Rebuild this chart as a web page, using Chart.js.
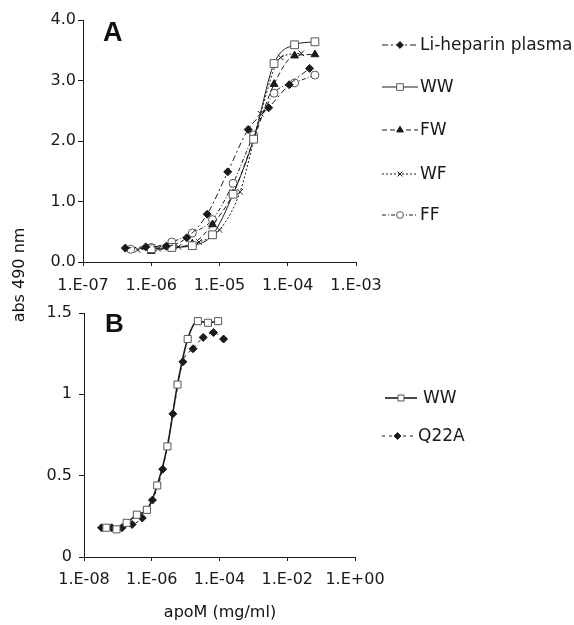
<!DOCTYPE html>
<html><head><meta charset="utf-8">
<script src="https://cdn.jsdelivr.net/npm/chart.js@4.4.1/dist/chart.umd.min.js"></script>
<style>
html,body{margin:0;padding:0;background:#fff;}
#wrap{position:relative;width:574px;height:625px;overflow:hidden;font-family:"DejaVu Sans",sans-serif;color:#111;}
canvas{position:absolute;left:0;top:0;}
.lbl{position:absolute;white-space:nowrap;}
</style></head><body>
<div id="wrap">
<canvas id="cA" width="574" height="625"></canvas>
<canvas id="cB" width="574" height="625"></canvas>
<div class="lbl" style="left:103px;top:19px;font:bold 27px 'Liberation Sans',sans-serif;line-height:27px;">A</div>
<div class="lbl" style="left:105px;top:310px;font:bold 26px 'Liberation Sans',sans-serif;line-height:26px;">B</div>
<div class="lbl" style="left:0px;top:604px;width:440px;text-align:center;font:16px 'DejaVu Sans',sans-serif;line-height:16px;">apoM (mg/ml)</div>
<div class="lbl" style="left:-81px;top:265px;width:200px;height:20px;text-align:center;font:16px 'DejaVu Sans',sans-serif;line-height:20px;transform:rotate(-90deg);">abs 490 nm</div>
</div>
<script>
// ---------- Panel A data ----------
const seriesA = ["Li-heparin plasma", "WW", "FW", "WF", "FF"];
const liHepX = [4.17e-7, 8.3e-7, 1.66e-6, 3.31e-6, 6.6e-6, 1.32e-5, 2.63e-5, 5.25e-5, 1.05e-4, 2.09e-4];
const liHepY = [0.23, 0.25, 0.26, 0.40, 0.79, 1.49, 2.19, 2.55, 2.93, 3.20];
const wwAX = [1.0e-6, 2.0e-6, 4.0e-6, 7.9e-6, 1.58e-5, 3.16e-5, 6.3e-5, 1.26e-4, 2.5e-4];
const wwAY = [0.22, 0.24, 0.27, 0.45, 1.12, 2.03, 3.28, 3.59, 3.64];
const fwX = [1.0e-6, 2.0e-6, 4.0e-6, 7.9e-6, 1.58e-5, 3.16e-5, 6.3e-5, 1.26e-4, 2.5e-4];
const fwY = [0.18, 0.24, 0.30, 0.62, 1.13, 2.02, 2.94, 3.41, 3.43];
const wfX = [6.3e-7, 1.26e-6, 2.5e-6, 5.0e-6, 1.0e-5, 2.0e-5, 4.0e-5, 7.9e-5, 1.58e-4];
const wfY = [0.20, 0.22, 0.25, 0.33, 0.53, 1.16, 2.45, 3.38, 3.45];
const ffX = [5.0e-7, 1.0e-6, 2.0e-6, 4.0e-6, 7.9e-6, 1.58e-5, 3.16e-5, 6.3e-5, 1.26e-4, 2.5e-4];
const ffY = [0.21, 0.24, 0.33, 0.48, 0.70, 1.30, 2.10, 2.79, 2.96, 3.09];
const yTicksA = [0, 1, 2, 3, 4];
const xTicksA = [1e-7, 1e-6, 1e-5, 1e-4, 1e-3];

// ---------- Panel B data ----------
const seriesB = ["WW", "Q22A"];
const wwBX = [4.57e-8, 9.1e-8, 1.82e-7, 3.63e-7, 7.2e-7, 1.45e-6, 2.9e-6, 5.75e-6, 1.15e-5, 2.3e-5, 4.57e-5, 9.1e-5];
const wwBY = [0.18, 0.17, 0.21, 0.26, 0.29, 0.44, 0.68, 1.06, 1.34, 1.45, 1.44, 1.45];
const q22aX = [3.3e-8, 6.6e-8, 1.32e-7, 2.63e-7, 5.25e-7, 1.05e-6, 2.1e-6, 4.2e-6, 8.3e-6, 1.66e-5, 3.3e-5, 6.6e-5, 1.32e-4];
const q22aY = [0.18, 0.18, 0.18, 0.20, 0.24, 0.35, 0.54, 0.88, 1.20, 1.28, 1.35, 1.38, 1.34];
const yTicksB = [0, 0.5, 1, 1.5];
const xTicksB = [1e-8, 1e-6, 1e-4, 1e-2, 1];

const FONT = {family: "'DejaVu Sans', sans-serif", size: 16};
const INK = '#1a1a1a';

function pts(xs, ys){ return xs.map((x,i)=>({x:x, y:ys[i]})); }
function fmtE(v){
  const e = Math.round(Math.log10(v));
  return '1.E' + (e < 0 ? '-' : '+') + String(Math.abs(e)).padStart(2,'0');
}
function ds(label, xs, ys, style){
  return Object.assign({
    label: label, data: pts(xs, ys), showLine: true,
    borderColor: INK, borderWidth: 1, tension: 0.4, cubicInterpolationMode: 'monotone',
    pointBorderColor: INK, pointBackgroundColor: INK, pointBorderWidth: 1,
    pointRadius: 4, pointHoverRadius: 4, borderDash: []
  }, style);
}

function legendPlugin(items){
  return {
    id: 'customLegend',
    afterDraw(chart){
      const ctx = chart.ctx;
      ctx.save();
      chart.data.datasets.forEach((d, i) => {
        const it = items[i];
        ctx.strokeStyle = d.borderColor; ctx.lineWidth = d.borderWidth;
        ctx.setLineDash(d.borderDash || []);
        ctx.beginPath(); ctx.moveTo(it.x1, it.y); ctx.lineTo(it.x2, it.y); ctx.stroke();
        ctx.setLineDash([]);
        ctx.fillStyle = d.pointBackgroundColor; ctx.strokeStyle = d.pointBorderColor;
        ctx.lineWidth = d.pointBorderWidth;
        Chart.helpers.drawPoint(ctx, {pointStyle: d.pointStyle, radius: d.pointRadius * 0.85, rotation: 0, borderWidth: d.pointBorderWidth}, (it.x1+it.x2)/2, it.y);
        ctx.fillStyle = INK;
        ctx.font = "17px 'DejaVu Sans', sans-serif";
        ctx.textBaseline = 'middle'; ctx.textAlign = 'left';
        ctx.fillText(d.label, it.tx, it.y + 1);
      });
      ctx.restore();
    }
  };
}

function axes(xmin, xmax, xticks, ymin, ymax, yticks, yfmt, ypad, xpad, yW, xH){
  return {
    x: {
      type: 'logarithmic', min: xmin, max: xmax,
      afterBuildTicks: s => { s.ticks = xticks.map(v => ({value: v})); },
      afterFit: s => { s.height = xH; },
      ticks: {callback: v => fmtE(v), font: FONT, color: INK, autoSkip: false, maxRotation: 0, padding: xpad},
      grid: {display: true, drawOnChartArea: false, drawTicks: true, tickLength: 4, color: INK},
      border: {display: true, color: INK, width: 1}
    },
    y: {
      type: 'linear', min: ymin, max: ymax,
      afterBuildTicks: s => { s.ticks = yticks.map(v => ({value: v})); },
      afterFit: s => { s.width = yW; },
      ticks: {callback: yfmt, font: FONT, color: INK, padding: ypad},
      grid: {display: true, drawOnChartArea: false, drawTicks: true, tickLength: 5, color: INK},
      border: {display: true, color: INK, width: 1}
    }
  };
}

const openSq = {pointBackgroundColor: '#ffffff', pointBorderColor: '#555555'};

new Chart(document.getElementById('cA'), {
  type: 'scatter',
  data: { datasets: [
    ds(seriesA[0], liHepX, liHepY, {pointStyle: 'rectRot', pointRadius: 4, borderDash: [6,3,2,3]}),
    ds(seriesA[1], wwAX, wwAY, Object.assign({pointStyle: 'rect', pointRadius: 5.5}, openSq)),
    ds(seriesA[2], fwX, fwY, {pointStyle: 'triangle', pointRadius: 4.5, borderDash: [5,3]}),
    ds(seriesA[3], wfX, wfY, {pointStyle: 'crossRot', pointRadius: 4, borderDash: [2,2]}),
    ds(seriesA[4], ffX, ffY, Object.assign({pointStyle: 'circle', pointRadius: 4, borderDash: [4,2,1,2]}, openSq))
  ]},
  options: {
    responsive: false, animation: false, devicePixelRatio: 1,
    layout: {padding: {top: 20, left: 0, right: 218, bottom: 625 - 262 - 40}},
    plugins: {legend: {display: false}, tooltip: {enabled: false}},
    scales: axes(1e-7, 1e-3, xTicksA, 0, 4, yTicksA, v => v.toFixed(1), 2, 10, 83, 40)
  },
  plugins: [legendPlugin([
    {x1: 382, x2: 418, tx: 420, y: 45},
    {x1: 382, x2: 418, tx: 420, y: 87},
    {x1: 382, x2: 418, tx: 420, y: 130},
    {x1: 382, x2: 418, tx: 420, y: 174},
    {x1: 382, x2: 418, tx: 420, y: 215}
  ])]
});

new Chart(document.getElementById('cB'), {
  type: 'scatter',
  data: { datasets: [
    ds(seriesB[0], wwBX, wwBY, Object.assign({pointStyle: 'rect', pointRadius: 5, borderWidth: 1.6}, openSq)),
    ds(seriesB[1], q22aX, q22aY, {pointStyle: 'rectRot', pointRadius: 4, borderDash: [3,4]})
  ]},
  options: {
    responsive: false, animation: false, devicePixelRatio: 1,
    layout: {padding: {top: 313, left: 0, right: 574 - 355, bottom: 625 - 557 - 40}},
    plugins: {legend: {display: false}, tooltip: {enabled: false}},
    scales: axes(1e-8, 1, xTicksB, 0, 1.5, yTicksB, v => String(v), 7, 9, 84, 40)
  },
  plugins: [legendPlugin([
    {x1: 385, x2: 417, tx: 423, y: 398},
    {x1: 382, x2: 413, tx: 418, y: 436}
  ])]
});
</script>
</body></html>
